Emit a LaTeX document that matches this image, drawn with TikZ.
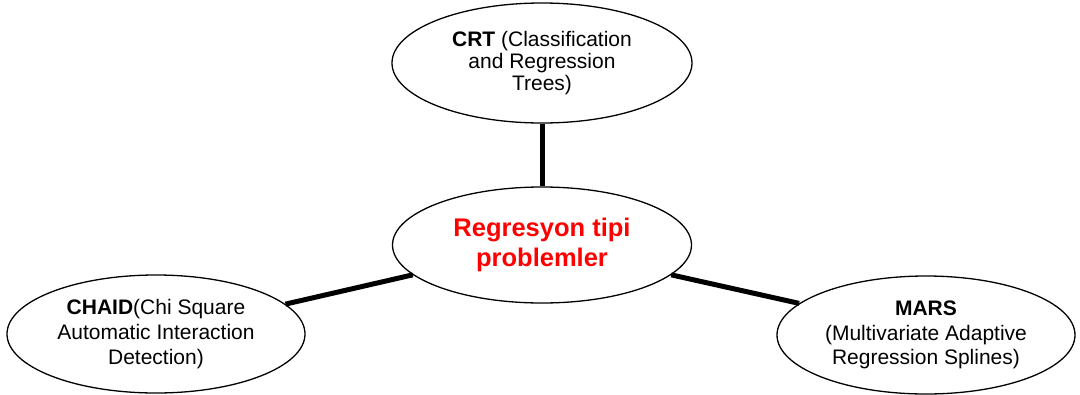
\documentclass[tikz,border=0pt]{standalone}
\usepackage{fontspec}
\setmainfont{Liberation Sans}
\usetikzlibrary{shapes.geometric}
\definecolor{regred}{RGB}{255,0,0}
\tikzset{
  oval/.style={draw=black, line width=1.3pt, ellipse, inner sep=0pt, align=center, fill=white},
  link/.style={line width=5pt, black},
}
\begin{document}
\begin{tikzpicture}[x=1pt,y=-1pt]
\useasboundingbox (0,0) rectangle (1080,394);
\node[oval, minimum width=300pt, minimum height=120pt,
  font=\fontsize{21}{22}\selectfont] (crt) at (542,63)
  {\textbf{CRT} (Classification\\and Regression\\Trees)};
\node[oval, minimum width=299pt, minimum height=116pt,
  font=\fontsize{25.5}{30}\bfseries\selectfont, text=regred] (reg) at (542,245)
  {Regresyon tipi\\problemler};
\node[oval, minimum width=298pt, minimum height=118pt,
  font=\fontsize{21}{25}\selectfont] (chaid) at (156,334)
  {\textbf{CHAID}(Chi Square\\Automatic Interaction\\Detection)};
\node[oval, minimum width=298pt, minimum height=118pt,
  font=\fontsize{21}{24.5}\selectfont] (mars) at (926,335)
  {\textbf{MARS}\\(Multivariate Adaptive\\Regression Splines)};
\draw[link] (crt.south) -- (reg.north);
\draw[link] (chaid.13) -- (reg.193);
\draw[link] (reg.-13) -- (mars.166);
\end{tikzpicture}
\end{document}
